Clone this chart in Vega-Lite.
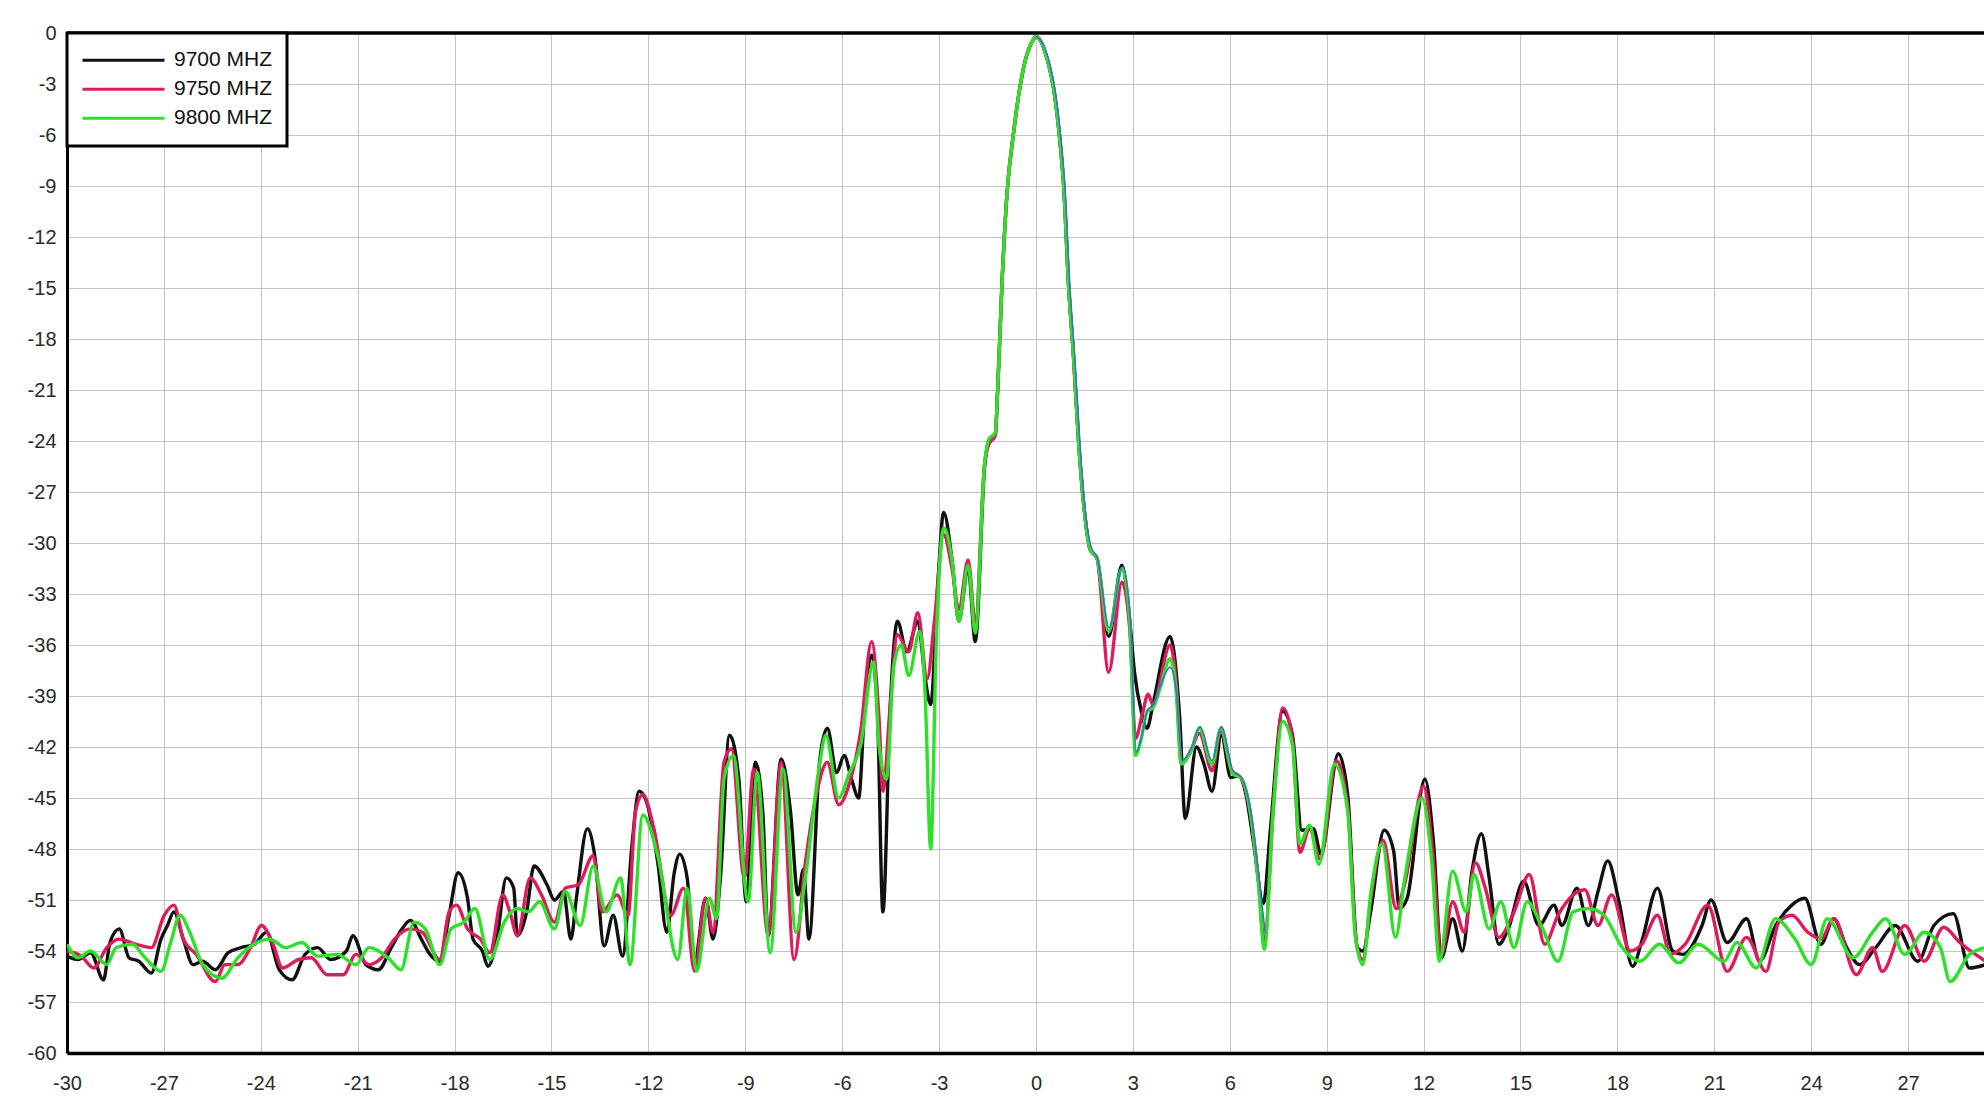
{
  "$schema": "https://vega.github.io/schema/vega-lite/v6.json",
  "autosize": {"type": "none"},
  "padding": {"left": 67, "top": 33, "right": 0, "bottom": 52},
  "width": 1917,
  "height": 1020,
  "background": "white",
  "config": {
    "view": {"stroke": null},
    "font": "Liberation Sans",
    "axis": {
      "gridColor": "#c4c4c4",
      "gridWidth": 1,
      "gridOpacity": 1,
      "domainColor": "#000000",
      "ticks": false,
      "labelFlush": false,
      "labelFont": "Liberation Sans",
      "labelFontSize": 20,
      "labelColor": "#2a2a2a",
      "title": null
    },
    "legend": {
      "orient": "none",
      "legendX": 0,
      "legendY": 0,
      "padding": 14,
      "fillColor": "white",
      "strokeColor": "#000000",
      "strokeWidth": 3,
      "symbolType": "stroke",
      "symbolSize": 6724,
      "symbolStrokeWidth": 3,
      "clipHeight": 26.5,
      "rowPadding": 2,
      "labelOffset": 8,
      "labelFont": "Liberation Sans",
      "labelFontSize": 21,
      "labelColor": "#111111",
      "title": null
    }
  },
  "layer": [
    {
      "data": {"values": [
        {"a": -30, "g": -54.3}, {"a": -29.66, "g": -54.5}, {"a": -29.27, "g": -54.1}, {"a": -28.87, "g": -55.7}, {"a": -28.67, "g": -53.5},
        {"a": -28.38, "g": -52.7}, {"a": -28.08, "g": -54.4}, {"a": -27.78, "g": -54.6}, {"a": -27.39, "g": -55.3}, {"a": -27.09, "g": -53.3},
        {"a": -26.89, "g": -52.5}, {"a": -26.69, "g": -51.7}, {"a": -26.4, "g": -53.3}, {"a": -26.1, "g": -54.8}, {"a": -25.8, "g": -54.6},
        {"a": -25.41, "g": -55.1}, {"a": -25.01, "g": -54.1}, {"a": -24.61, "g": -53.8}, {"a": -24.2, "g": -53.6}, {"a": -23.82, "g": -52.9},
        {"a": -23.43, "g": -55.1}, {"a": -23.03, "g": -55.7}, {"a": -22.63, "g": -54.2}, {"a": -22.24, "g": -53.8}, {"a": -21.84, "g": -54.5},
        {"a": -21.35, "g": -54.0}, {"a": -21.15, "g": -53.1}, {"a": -20.75, "g": -54.8}, {"a": -20.36, "g": -55.1}, {"a": -19.96, "g": -53.8},
        {"a": -19.66, "g": -52.8}, {"a": -19.37, "g": -52.2}, {"a": -19.03, "g": -53.3}, {"a": -18.8, "g": -54.1}, {"a": -18.46, "g": -54.6},
        {"a": -18.17, "g": -51.9}, {"a": -17.89, "g": -49.4}, {"a": -17.6, "g": -50.9}, {"a": -17.43, "g": -53.3}, {"a": -17.14, "g": -54.0},
        {"a": -16.97, "g": -54.9}, {"a": -16.69, "g": -53.3}, {"a": -16.4, "g": -49.7}, {"a": -16.17, "g": -50.3}, {"a": -16.06, "g": -53.1},
        {"a": -15.77, "g": -51.7}, {"a": -15.54, "g": -49.0}, {"a": -15.14, "g": -50.1}, {"a": -14.91, "g": -51.0}, {"a": -14.63, "g": -50.5},
        {"a": -14.4, "g": -53.3}, {"a": -14.23, "g": -50.9}, {"a": -13.89, "g": -46.8}, {"a": -13.66, "g": -48.4}, {"a": -13.37, "g": -53.7},
        {"a": -13.09, "g": -51.9}, {"a": -12.8, "g": -54.3}, {"a": -12.51, "g": -47.8}, {"a": -12.29, "g": -44.6}, {"a": -12.06, "g": -45.2},
        {"a": -11.71, "g": -48.8}, {"a": -11.43, "g": -52.9}, {"a": -11.2, "g": -49.4}, {"a": -11.03, "g": -48.3}, {"a": -10.8, "g": -49.7},
        {"a": -10.57, "g": -54.6}, {"a": -10.23, "g": -50.9}, {"a": -10.0, "g": -53.3}, {"a": -9.77, "g": -49.7}, {"a": -9.49, "g": -41.3},
        {"a": -9.2, "g": -43.9}, {"a": -8.97, "g": -51.1}, {"a": -8.69, "g": -42.9}, {"a": -8.46, "g": -45.8}, {"a": -8.29, "g": -53.1},
        {"a": -7.89, "g": -42.7}, {"a": -7.6, "g": -45.8}, {"a": -7.37, "g": -50.7}, {"a": -7.2, "g": -49.2}, {"a": -7.03, "g": -53.3},
        {"a": -6.69, "g": -42.7}, {"a": -6.46, "g": -40.9}, {"a": -6.17, "g": -43.5}, {"a": -5.94, "g": -42.5}, {"a": -5.71, "g": -43.9},
        {"a": -5.49, "g": -45.0}, {"a": -5.31, "g": -39.9}, {"a": -5.09, "g": -36.6}, {"a": -4.91, "g": -39.9}, {"a": -4.74, "g": -51.7},
        {"a": -4.51, "g": -39.5}, {"a": -4.29, "g": -34.6}, {"a": -4.0, "g": -36.4}, {"a": -3.66, "g": -34.6}, {"a": -3.43, "g": -38.0},
        {"a": -3.26, "g": -39.5}, {"a": -3.03, "g": -32.1}, {"a": -2.86, "g": -28.2}, {"a": -2.6, "g": -31.0}, {"a": -2.39, "g": -34.6},
        {"a": -2.1, "g": -31.5}, {"a": -1.88, "g": -35.8}, {"a": -1.59, "g": -25.5}, {"a": -1.46, "g": -24.0}, {"a": -1.26, "g": -23.6},
        {"a": -1.18, "g": -20.7}, {"a": -1.05, "g": -14.6}, {"a": -0.9, "g": -9.5}, {"a": -0.69, "g": -5.8}, {"a": -0.54, "g": -3.7},
        {"a": -0.33, "g": -1.6}, {"a": -0.07, "g": -0.35}, {"a": 0, "g": -0.2}, {"a": 0.24, "g": -0.9}, {"a": 0.7, "g": -5.6},
        {"a": 0.86, "g": -9.1}, {"a": 1.01, "g": -14.9}, {"a": 1.16, "g": -19.0}, {"a": 1.32, "g": -24.1}, {"a": 1.47, "g": -27.6},
        {"a": 1.68, "g": -30.4}, {"a": 1.89, "g": -30.9}, {"a": 2.25, "g": -35.5}, {"a": 2.66, "g": -31.3}, {"a": 2.9, "g": -34.5},
        {"a": 3.05, "g": -37.6}, {"a": 3.26, "g": -39.9}, {"a": 3.44, "g": -40.9}, {"a": 3.62, "g": -39.5}, {"a": 4.15, "g": -35.5},
        {"a": 4.45, "g": -40.3}, {"a": 4.62, "g": -46.2}, {"a": 4.97, "g": -42.0}, {"a": 5.2, "g": -43.0}, {"a": 5.45, "g": -44.6},
        {"a": 5.74, "g": -41.3}, {"a": 6.03, "g": -43.8}, {"a": 6.27, "g": -43.7}, {"a": 6.5, "g": -44.8}, {"a": 6.74, "g": -47.7},
        {"a": 7.04, "g": -51.2}, {"a": 7.25, "g": -47.0}, {"a": 7.64, "g": -39.9}, {"a": 7.94, "g": -41.3}, {"a": 8.23, "g": -46.9},
        {"a": 8.59, "g": -46.8}, {"a": 8.82, "g": -48.3}, {"a": 9.36, "g": -42.4}, {"a": 9.65, "g": -44.8}, {"a": 9.95, "g": -53.8},
        {"a": 10.12, "g": -54.0}, {"a": 10.36, "g": -51.7}, {"a": 10.78, "g": -46.9}, {"a": 11.07, "g": -48.1}, {"a": 11.25, "g": -51.5},
        {"a": 11.49, "g": -50.9}, {"a": 12.04, "g": -43.9}, {"a": 12.31, "g": -47.7}, {"a": 12.55, "g": -54.4}, {"a": 12.9, "g": -52.1},
        {"a": 13.2, "g": -54.0}, {"a": 13.5, "g": -49.3}, {"a": 13.79, "g": -47.1}, {"a": 14.03, "g": -49.7}, {"a": 14.33, "g": -53.6},
        {"a": 14.62, "g": -52.7}, {"a": 15.1, "g": -49.9}, {"a": 15.57, "g": -52.5}, {"a": 16.04, "g": -51.3}, {"a": 16.28, "g": -52.5},
        {"a": 16.75, "g": -50.3}, {"a": 17.1, "g": -52.5}, {"a": 17.4, "g": -50.5}, {"a": 17.7, "g": -48.7}, {"a": 18.05, "g": -51.1},
        {"a": 18.47, "g": -54.9}, {"a": 18.76, "g": -53.4}, {"a": 19.24, "g": -50.3}, {"a": 19.71, "g": -54.0}, {"a": 20.03, "g": -54.2},
        {"a": 20.62, "g": -52.5}, {"a": 20.9, "g": -51.0}, {"a": 21.4, "g": -53.5}, {"a": 22.0, "g": -52.1}, {"a": 22.4, "g": -54.6},
        {"a": 22.9, "g": -52.5}, {"a": 23.4, "g": -51.3}, {"a": 23.8, "g": -50.9}, {"a": 24.3, "g": -53.6}, {"a": 24.7, "g": -52.1},
        {"a": 25.1, "g": -53.8}, {"a": 25.5, "g": -54.8}, {"a": 26.0, "g": -53.8}, {"a": 26.6, "g": -52.5}, {"a": 27.3, "g": -54.6},
        {"a": 27.8, "g": -52.5}, {"a": 28.4, "g": -51.8}, {"a": 28.9, "g": -55.0}, {"a": 29.4, "g": -54.8}
      ]},
      "mark": {"type": "line", "strokeWidth": 3.4, "interpolate": "monotone", "clip": true},
      "encoding": {
        "x": {
          "field": "a", "type": "quantitative",
          "scale": {"domain": [-30, 29.35], "nice": false, "zero": false},
          "axis": {
            "values": [-30, -27, -24, -21, -18, -15, -12, -9, -6, -3, 0, 3, 6, 9, 12, 15, 18, 21, 24, 27],
            "labelExpr": "datum.value < 0 ? '-' + abs(datum.value) : '' + datum.value",
            "labelPadding": 20,
            "domainWidth": 3.5
          }
        },
        "y": {
          "field": "g", "type": "quantitative",
          "scale": {"domain": [-60, 0], "nice": false, "zero": false},
          "axis": {
            "values": [-60, -57, -54, -51, -48, -45, -42, -39, -36, -33, -30, -27, -24, -21, -18, -15, -12, -9, -6, -3, 0],
            "labelExpr": "datum.value < 0 ? '-' + abs(datum.value) : '' + datum.value",
            "labelPadding": 11,
            "domainWidth": 3
          }
        },
        "color": {
          "datum": "9700 MHZ",
          "scale": {"domain": ["9700 MHZ", "9750 MHZ", "9800 MHZ"], "range": ["#111111", "#dc1c5c", "#2fe02a"]}
        }
      }
    },
    {
      "data": {"values": [
        {"a": -30, "g": -54.0}, {"a": -29.56, "g": -54.3}, {"a": -29.17, "g": -55.0}, {"a": -28.77, "g": -53.8}, {"a": -28.38, "g": -53.3},
        {"a": -27.88, "g": -53.6}, {"a": -27.39, "g": -53.8}, {"a": -26.99, "g": -51.9}, {"a": -26.69, "g": -51.3}, {"a": -26.4, "g": -53.3},
        {"a": -26.0, "g": -54.2}, {"a": -25.41, "g": -55.8}, {"a": -25.11, "g": -54.8}, {"a": -24.71, "g": -54.8}, {"a": -24.32, "g": -53.8},
        {"a": -23.98, "g": -52.5}, {"a": -23.62, "g": -53.6}, {"a": -23.33, "g": -55.0}, {"a": -22.83, "g": -54.5}, {"a": -22.44, "g": -54.4},
        {"a": -21.94, "g": -55.4}, {"a": -21.45, "g": -55.4}, {"a": -21.05, "g": -54.2}, {"a": -20.65, "g": -54.8}, {"a": -20.26, "g": -54.4},
        {"a": -19.86, "g": -53.3}, {"a": -19.37, "g": -52.7}, {"a": -19.0, "g": -52.9}, {"a": -18.46, "g": -54.5}, {"a": -18.17, "g": -51.7},
        {"a": -17.94, "g": -51.3}, {"a": -17.6, "g": -52.7}, {"a": -17.2, "g": -53.3}, {"a": -16.91, "g": -54.1}, {"a": -16.51, "g": -50.7},
        {"a": -16.29, "g": -51.7}, {"a": -16.06, "g": -53.1}, {"a": -15.66, "g": -49.7}, {"a": -15.31, "g": -50.7}, {"a": -14.91, "g": -52.3},
        {"a": -14.57, "g": -50.3}, {"a": -14.17, "g": -50.1}, {"a": -13.71, "g": -48.4}, {"a": -13.43, "g": -51.7}, {"a": -12.97, "g": -50.7},
        {"a": -12.63, "g": -51.9}, {"a": -12.4, "g": -45.8}, {"a": -12.17, "g": -44.8}, {"a": -11.83, "g": -46.8}, {"a": -11.31, "g": -51.9},
        {"a": -10.91, "g": -50.3}, {"a": -10.57, "g": -55.2}, {"a": -10.23, "g": -50.9}, {"a": -10.0, "g": -52.9}, {"a": -9.66, "g": -42.9},
        {"a": -9.43, "g": -42.1}, {"a": -9.03, "g": -49.7}, {"a": -8.74, "g": -43.3}, {"a": -8.29, "g": -53.1}, {"a": -7.89, "g": -42.9},
        {"a": -7.49, "g": -54.5}, {"a": -7.14, "g": -48.8}, {"a": -6.8, "g": -44.8}, {"a": -6.46, "g": -42.9}, {"a": -6.11, "g": -45.4},
        {"a": -5.77, "g": -44.1}, {"a": -5.43, "g": -41.1}, {"a": -5.09, "g": -35.8}, {"a": -4.86, "g": -40.3}, {"a": -4.74, "g": -44.6},
        {"a": -4.51, "g": -39.5}, {"a": -4.29, "g": -35.4}, {"a": -3.94, "g": -36.4}, {"a": -3.66, "g": -34.1}, {"a": -3.37, "g": -38.0},
        {"a": -3.14, "g": -34.5}, {"a": -2.86, "g": -29.5}, {"a": -2.6, "g": -31.5}, {"a": -2.39, "g": -33.9}, {"a": -2.1, "g": -31.0},
        {"a": -1.88, "g": -34.7}, {"a": -1.59, "g": -25.3}, {"a": -1.46, "g": -24.2}, {"a": -1.26, "g": -23.7}, {"a": -1.18, "g": -20.7},
        {"a": -1.05, "g": -14.6}, {"a": -0.9, "g": -9.5}, {"a": -0.69, "g": -5.8}, {"a": -0.54, "g": -3.7}, {"a": -0.33, "g": -1.6},
        {"a": -0.07, "g": -0.35}, {"a": 0, "g": -0.2}, {"a": 0.24, "g": -0.9}, {"a": 0.7, "g": -5.6}, {"a": 0.86, "g": -9.1},
        {"a": 1.01, "g": -14.9}, {"a": 1.16, "g": -19.0}, {"a": 1.32, "g": -24.1}, {"a": 1.47, "g": -27.6}, {"a": 1.68, "g": -30.4},
        {"a": 1.89, "g": -30.9}, {"a": 2.25, "g": -37.6}, {"a": 2.66, "g": -32.3}, {"a": 2.9, "g": -35.0}, {"a": 3.08, "g": -41.5},
        {"a": 3.3, "g": -40.0}, {"a": 3.47, "g": -38.9}, {"a": 3.62, "g": -39.5}, {"a": 4.15, "g": -36.0}, {"a": 4.35, "g": -38.5},
        {"a": 4.5, "g": -43.0}, {"a": 4.8, "g": -42.2}, {"a": 5.06, "g": -41.2}, {"a": 5.45, "g": -43.4}, {"a": 5.72, "g": -41.0},
        {"a": 6.05, "g": -43.4}, {"a": 6.34, "g": -43.8}, {"a": 6.63, "g": -45.8}, {"a": 6.87, "g": -49.5}, {"a": 7.07, "g": -53.5},
        {"a": 7.34, "g": -45.8}, {"a": 7.64, "g": -39.7}, {"a": 7.94, "g": -41.5}, {"a": 8.17, "g": -48.2}, {"a": 8.47, "g": -46.8},
        {"a": 8.8, "g": -48.6}, {"a": 9.3, "g": -42.8}, {"a": 9.65, "g": -45.5}, {"a": 9.92, "g": -53.5}, {"a": 10.12, "g": -54.5},
        {"a": 10.36, "g": -51.0}, {"a": 10.75, "g": -47.5}, {"a": 11.15, "g": -51.5}, {"a": 11.42, "g": -50.0}, {"a": 12.0, "g": -44.3},
        {"a": 12.28, "g": -48.2}, {"a": 12.55, "g": -54.2}, {"a": 12.9, "g": -51.1}, {"a": 13.26, "g": -52.9}, {"a": 13.6, "g": -48.8},
        {"a": 13.91, "g": -50.3}, {"a": 14.33, "g": -53.2}, {"a": 14.8, "g": -51.7}, {"a": 15.27, "g": -49.5}, {"a": 15.75, "g": -53.6},
        {"a": 16.16, "g": -51.9}, {"a": 16.99, "g": -50.4}, {"a": 17.4, "g": -52.5}, {"a": 17.82, "g": -50.7}, {"a": 18.4, "g": -54.0},
        {"a": 18.76, "g": -53.6}, {"a": 19.24, "g": -51.9}, {"a": 19.65, "g": -54.2}, {"a": 20.1, "g": -53.6}, {"a": 20.8, "g": -51.3},
        {"a": 21.4, "g": -55.2}, {"a": 22.0, "g": -53.2}, {"a": 22.6, "g": -55.2}, {"a": 23.0, "g": -52.3}, {"a": 23.4, "g": -51.9},
        {"a": 23.9, "g": -52.9}, {"a": 24.3, "g": -53.3}, {"a": 24.7, "g": -52.1}, {"a": 25.4, "g": -55.4}, {"a": 25.9, "g": -53.8},
        {"a": 26.2, "g": -55.2}, {"a": 26.9, "g": -52.5}, {"a": 27.5, "g": -54.6}, {"a": 28.1, "g": -52.6}, {"a": 28.6, "g": -53.5},
        {"a": 29.4, "g": -54.6}
      ]},
      "mark": {"type": "line", "strokeWidth": 3.4, "interpolate": "monotone", "clip": true},
      "encoding": {
        "x": {"field": "a", "type": "quantitative"},
        "y": {"field": "g", "type": "quantitative"},
        "color": {"datum": "9750 MHZ"}
      }
    },
    {
      "data": {"values": [
        {"a": -30, "g": -53.6}, {"a": -29.66, "g": -54.4}, {"a": -29.27, "g": -54.0}, {"a": -28.77, "g": -54.8}, {"a": -28.48, "g": -53.8},
        {"a": -27.98, "g": -53.6}, {"a": -27.58, "g": -54.4}, {"a": -27.09, "g": -55.2}, {"a": -26.79, "g": -53.5}, {"a": -26.5, "g": -51.9},
        {"a": -26.2, "g": -52.9}, {"a": -25.8, "g": -54.8}, {"a": -25.21, "g": -55.6}, {"a": -24.71, "g": -54.4}, {"a": -24.22, "g": -53.6},
        {"a": -23.72, "g": -53.3}, {"a": -23.23, "g": -53.8}, {"a": -22.73, "g": -53.5}, {"a": -22.24, "g": -54.3}, {"a": -21.64, "g": -54.2},
        {"a": -21.05, "g": -54.8}, {"a": -20.65, "g": -53.8}, {"a": -20.06, "g": -54.4}, {"a": -19.66, "g": -55.1}, {"a": -19.26, "g": -52.3},
        {"a": -18.91, "g": -52.7}, {"a": -18.46, "g": -54.8}, {"a": -18.11, "g": -52.7}, {"a": -17.71, "g": -52.3}, {"a": -17.37, "g": -51.5},
        {"a": -16.91, "g": -54.5}, {"a": -16.46, "g": -52.3}, {"a": -16.06, "g": -51.5}, {"a": -15.71, "g": -51.7}, {"a": -15.37, "g": -51.1},
        {"a": -14.91, "g": -52.7}, {"a": -14.57, "g": -50.5}, {"a": -14.11, "g": -52.5}, {"a": -13.71, "g": -49.0}, {"a": -13.31, "g": -51.7},
        {"a": -12.86, "g": -49.7}, {"a": -12.57, "g": -54.8}, {"a": -12.17, "g": -46.0}, {"a": -11.71, "g": -48.4}, {"a": -11.09, "g": -54.5},
        {"a": -10.8, "g": -50.3}, {"a": -10.51, "g": -55.2}, {"a": -10.11, "g": -50.9}, {"a": -9.89, "g": -52.1}, {"a": -9.66, "g": -43.9},
        {"a": -9.37, "g": -42.5}, {"a": -8.91, "g": -51.1}, {"a": -8.63, "g": -43.5}, {"a": -8.23, "g": -54.1}, {"a": -7.83, "g": -43.3},
        {"a": -7.43, "g": -52.9}, {"a": -7.14, "g": -49.7}, {"a": -6.69, "g": -42.9}, {"a": -6.51, "g": -41.3}, {"a": -6.11, "g": -45.0},
        {"a": -5.77, "g": -43.5}, {"a": -5.43, "g": -41.9}, {"a": -5.03, "g": -37.0}, {"a": -4.86, "g": -41.9}, {"a": -4.63, "g": -43.9},
        {"a": -4.4, "g": -37.2}, {"a": -4.17, "g": -36.0}, {"a": -3.94, "g": -37.8}, {"a": -3.6, "g": -35.2}, {"a": -3.43, "g": -39.0},
        {"a": -3.26, "g": -48.0}, {"a": -3.09, "g": -36.0}, {"a": -2.86, "g": -29.1}, {"a": -2.6, "g": -31.0}, {"a": -2.39, "g": -34.6},
        {"a": -2.1, "g": -31.3}, {"a": -1.88, "g": -35.3}, {"a": -1.59, "g": -25.3}, {"a": -1.46, "g": -23.9}, {"a": -1.26, "g": -23.5},
        {"a": -1.18, "g": -20.7}, {"a": -1.05, "g": -14.6}, {"a": -0.9, "g": -9.5}, {"a": -0.69, "g": -5.8}, {"a": -0.54, "g": -3.7},
        {"a": -0.33, "g": -1.6}, {"a": -0.07, "g": -0.35}, {"a": 0, "g": -0.2}, {"a": 0.24, "g": -0.9}, {"a": 0.7, "g": -5.6},
        {"a": 0.86, "g": -9.1}, {"a": 1.01, "g": -14.9}, {"a": 1.16, "g": -19.0}, {"a": 1.32, "g": -24.1}, {"a": 1.47, "g": -27.6},
        {"a": 1.68, "g": -30.4}, {"a": 1.89, "g": -30.9}, {"a": 2.25, "g": -35.2}, {"a": 2.66, "g": -31.5}, {"a": 2.9, "g": -34.5},
        {"a": 3.08, "g": -42.5}, {"a": 3.26, "g": -41.5}, {"a": 3.44, "g": -39.9}, {"a": 3.62, "g": -39.7}, {"a": 3.85, "g": -38.5},
        {"a": 4.15, "g": -36.8}, {"a": 4.33, "g": -38.5}, {"a": 4.5, "g": -43.0}, {"a": 4.8, "g": -42.2}, {"a": 5.06, "g": -40.9},
        {"a": 5.45, "g": -43.0}, {"a": 5.72, "g": -40.9}, {"a": 6.1, "g": -43.6}, {"a": 6.34, "g": -43.8}, {"a": 6.63, "g": -45.8},
        {"a": 6.87, "g": -49.7}, {"a": 7.07, "g": -53.9}, {"a": 7.34, "g": -45.8}, {"a": 7.64, "g": -40.5}, {"a": 7.94, "g": -41.9},
        {"a": 8.17, "g": -47.7}, {"a": 8.47, "g": -46.6}, {"a": 8.76, "g": -48.9}, {"a": 9.24, "g": -43.0}, {"a": 9.65, "g": -45.8},
        {"a": 9.89, "g": -53.2}, {"a": 10.12, "g": -54.8}, {"a": 10.36, "g": -50.7}, {"a": 10.72, "g": -47.7}, {"a": 11.13, "g": -53.2},
        {"a": 11.42, "g": -49.7}, {"a": 11.95, "g": -45.0}, {"a": 12.25, "g": -48.7}, {"a": 12.49, "g": -54.6}, {"a": 12.9, "g": -49.3},
        {"a": 13.32, "g": -51.7}, {"a": 13.56, "g": -49.5}, {"a": 14.03, "g": -52.7}, {"a": 14.39, "g": -51.1}, {"a": 14.8, "g": -53.8},
        {"a": 15.21, "g": -51.1}, {"a": 15.69, "g": -52.7}, {"a": 16.16, "g": -54.6}, {"a": 16.63, "g": -51.7}, {"a": 17.1, "g": -51.5},
        {"a": 17.58, "g": -51.9}, {"a": 18.15, "g": -53.8}, {"a": 18.7, "g": -54.6}, {"a": 19.3, "g": -53.6}, {"a": 19.9, "g": -54.7},
        {"a": 20.5, "g": -53.6}, {"a": 21.3, "g": -54.6}, {"a": 21.7, "g": -53.5}, {"a": 22.3, "g": -55.0}, {"a": 22.9, "g": -52.1},
        {"a": 23.5, "g": -53.3}, {"a": 24.0, "g": -54.8}, {"a": 24.5, "g": -52.1}, {"a": 25.3, "g": -54.4}, {"a": 25.9, "g": -52.9},
        {"a": 26.3, "g": -52.1}, {"a": 26.9, "g": -54.2}, {"a": 27.5, "g": -52.9}, {"a": 28.0, "g": -53.8}, {"a": 28.3, "g": -55.8},
        {"a": 28.9, "g": -54.2}, {"a": 29.4, "g": -53.8}
      ]},
      "mark": {"type": "line", "strokeWidth": 3.4, "interpolate": "monotone", "clip": true},
      "encoding": {
        "x": {"field": "a", "type": "quantitative"},
        "y": {"field": "g", "type": "quantitative"},
        "color": {"datum": "9800 MHZ"}
      }
    },
    {
      "data": {"values": [
        {"a": 0, "g": -0.2}, {"a": 0.28, "g": -0.9}, {"a": 0.74, "g": -5.6}, {"a": 0.9, "g": -9.1}, {"a": 1.05, "g": -14.9},
        {"a": 1.2, "g": -19.0}, {"a": 1.36, "g": -24.1}, {"a": 1.5, "g": -27.6}, {"a": 1.7, "g": -30.2}, {"a": 1.9, "g": -30.9},
        {"a": 2.27, "g": -35.0}, {"a": 2.68, "g": -31.4}, {"a": 2.92, "g": -34.5}, {"a": 3.1, "g": -42.3}, {"a": 3.28, "g": -41.3},
        {"a": 3.46, "g": -39.8}, {"a": 3.64, "g": -39.5}, {"a": 3.87, "g": -38.3}, {"a": 4.15, "g": -37.3}, {"a": 4.35, "g": -38.8},
        {"a": 4.52, "g": -42.8}, {"a": 4.82, "g": -42.0}, {"a": 5.08, "g": -40.8}, {"a": 5.45, "g": -42.8}, {"a": 5.74, "g": -40.8},
        {"a": 6.1, "g": -43.4}, {"a": 6.36, "g": -43.8}, {"a": 6.65, "g": -45.8}, {"a": 6.9, "g": -49.7}, {"a": 7.1, "g": -53.0}
      ]},
      "mark": {"type": "line", "strokeWidth": 1.6, "color": "#3d6fd0", "interpolate": "monotone", "clip": true},
      "encoding": {
        "x": {"field": "a", "type": "quantitative"},
        "y": {"field": "g", "type": "quantitative"}
      }
    },
    {
      "data": {"values": [{"g": 0}]},
      "mark": {"type": "rule", "strokeWidth": 3.5, "color": "#000000"},
      "encoding": {
        "y": {"field": "g", "type": "quantitative"}
      }
    }
  ]
}
